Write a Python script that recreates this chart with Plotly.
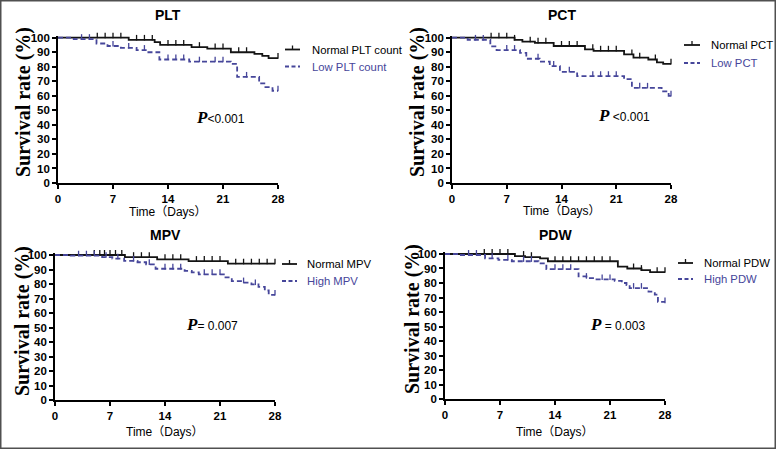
import numpy as np
import plotly.graph_objects as go

W, H = 776, 449

# ---- data (days, survival %) ----
day_ticks = [0, 7, 14, 21, 28]

plt_normal_t = [0, 9, 12.3, 13, 17, 19, 22, 25, 26, 26.8, 28]
plt_normal_s = [100, 98.5, 97, 95, 93.5, 92.5, 90, 88.8, 87.5, 86, 86]
plt_normal_cens = [5, 6, 7, 8, 10, 11, 12, 14, 15, 16, 18, 20, 21, 23, 24, 28]
plt_low_t = [0, 2, 4.9, 6.3, 8, 10, 11.5, 12.9, 16.7, 22, 22.8, 25.6, 26.4, 27.3, 28]
plt_low_s = [100, 99, 96, 94.3, 93, 91.5, 90, 85, 83.5, 82, 73, 68.5, 66, 63.5, 63.5]
plt_low_cens = [3, 4, 7, 9, 11, 14, 15, 16, 18, 20, 21, 24, 28]

pct_normal_t = [0, 8, 9, 10.6, 13, 17, 18.1, 22, 23.2, 25.1, 26.2, 27, 28]
pct_normal_s = [100, 98.5, 97.3, 96.5, 94.3, 92, 91, 88.5, 86.3, 85, 83, 82, 82]
pct_normal_cens = [5, 6, 7, 8, 10, 11, 12, 14, 15, 16, 18, 19, 20, 21, 23, 24, 26, 28]
pct_low_t = [0, 2, 4.9, 5.7, 8.7, 9.5, 11.2, 12.5, 13.8, 16, 22, 23, 26.8, 27.7, 28]
pct_low_s = [100, 98.5, 94, 91.5, 89.5, 85.5, 83.5, 80.5, 76.5, 73.5, 71.5, 65.5, 63, 60, 60]
pct_low_cens = [3, 4, 7, 8, 11, 13, 15, 18, 19, 20, 21, 24, 25, 28]

mpv_normal_t = [0, 8.9, 13, 17, 22, 28]
mpv_normal_s = [100, 98.5, 97, 95.8, 94, 94]
mpv_normal_cens = [5, 5.7, 6.3, 7, 7.7, 8.5, 10, 11, 12, 14, 15, 16, 18, 19, 20, 21,
                   23, 24, 25, 26, 27, 28]
mpv_high_t = [0, 2, 6, 7.3, 8.8, 10.5, 11.6, 12.8, 16.5, 17.4, 18.3, 21.7, 22.5, 23.8,
              25, 25.9, 26.7, 27.2, 28]
mpv_high_s = [100, 99.5, 98.5, 97.5, 96, 95, 93.6, 90.5, 89, 88, 86.7, 84.5, 82, 81,
              79.7, 78, 75.5, 72.5, 72.5]
mpv_high_cens = [3, 4, 5, 6.5, 8, 10, 12, 14, 15, 16, 19, 20, 21, 24, 25.5, 28]

pdw_normal_t = [0, 8.9, 10.2, 12.1, 13.1, 22, 23.2, 25, 26.1, 28]
pdw_normal_s = [100, 98.6, 97.8, 97, 95, 91.3, 90, 88.9, 87.5, 87.5]
pdw_normal_cens = [5, 6, 7, 8, 10, 11, 14, 15, 16, 17, 18, 19, 20, 21, 24, 25, 27, 28]
pdw_high_t = [0, 1.9, 5.1, 6.8, 8.5, 11.9, 12.9, 17, 18, 19.1, 21.6, 22.5, 23.1, 23.5,
              25.9, 26.7, 27.1, 28]
pdw_high_s = [100, 99.3, 97, 96, 95, 93.6, 89.5, 84.5, 83.4, 82.5, 81.5, 80, 78.5, 76.5,
              74, 72, 67, 66.5]
pdw_high_cens = [3, 4, 6, 8, 10, 11, 14, 15, 16, 18, 20, 21, 24, 25, 28]

BLACK = "#141414"
BLUE = "#46469a"
SANS = "Arial, Liberation Sans, sans-serif"
SERIF = "Times New Roman, Liberation Serif, serif"

panels = [
    dict(title="PLT", names=("Normal PLT count", "Low PLT count"), p="&lt;0.001",
         normal=(plt_normal_t, plt_normal_s, plt_normal_cens),
         other=(plt_low_t, plt_low_s, plt_low_cens),
         box=(58, 278, 183, 37.7), title_y=15, ytitle=(24, 102), xtitle_y=212,
         leg=(285, 300, 310, 49.5, 66.5), pos_p=(220, 117)),
    dict(title="PCT", names=("Normal PCT", "Low PCT"), p=" &lt;0.001",
         normal=(pct_normal_t, pct_normal_s, pct_normal_cens),
         other=(pct_low_t, pct_low_s, pct_low_cens),
         box=(452, 671, 183, 37.7), title_y=15, ytitle=(418, 102), xtitle_y=211,
         leg=(684, 700, 709, 45, 63), pos_p=(624, 115)),
    dict(title="MPV", names=("Normal MPV", "High MPV"), p="= 0.007",
         normal=(mpv_normal_t, mpv_normal_s, mpv_normal_cens),
         other=(mpv_high_t, mpv_high_s, mpv_high_cens),
         box=(55, 275, 400, 255), title_y=235, ytitle=(22, 321), xtitle_y=432,
         leg=(282, 297, 305, 264, 281), pos_p=(212, 324)),
    dict(title="PDW", names=("Normal PDW", "High PDW"), p=" = 0.003",
         normal=(pdw_normal_t, pdw_normal_s, pdw_normal_cens),
         other=(pdw_high_t, pdw_high_s, pdw_high_cens),
         box=(445, 665, 399, 254), title_y=235, ytitle=(412, 319), xtitle_y=432,
         leg=(678, 693, 702, 263, 279), pos_p=(617, 324)),
]


def px(x):
    return x / W


def py(y):
    return 1 - y / H


def surv_at(t, s, tc):
    idx = np.searchsorted(np.array(t), np.array(tc), side="right") - 1
    return np.array(s)[idx]


fig = go.Figure()
annotations = []
shapes = []
YTOP = 101.5

for i, pn in enumerate(panels, start=1):
    xa = "x" if i == 1 else f"x{i}"
    ya = "y" if i == 1 else f"y{i}"
    x0, x1, yb, y100 = pn["box"]
    ytop_px = y100 - (yb - y100) * (YTOP - 100) / 100

    for (t, s, cens), color, dash in [(pn["normal"], BLACK, "solid"),
                                      (pn["other"], BLUE, "5px,3px")]:
        fig.add_trace(go.Scatter(x=t, y=s, mode="lines", line_shape="hv",
                                 line=dict(color=color, width=1.8, dash=dash),
                                 xaxis=xa, yaxis=ya, showlegend=False,
                                 hoverinfo="skip"))
        # censoring ticks sit just above the step line
        fig.add_trace(go.Scatter(x=cens, y=surv_at(t, s, cens) + 1.5, mode="markers",
                                 marker=dict(symbol="line-ns", size=4,
                                             line=dict(color=color, width=1.3)),
                                 cliponaxis=False, xaxis=xa, yaxis=ya,
                                 showlegend=False, hoverinfo="skip"))

    axis_common = dict(showline=True, linecolor="black", linewidth=1.6, ticks="outside",
                       ticklen=4, tickwidth=1.5, tickcolor="black", showgrid=False,
                       zeroline=False, automargin=False,
                       tickfont=dict(family=SANS, size=11.5, color="black", weight="bold"))
    fig.layout[f"xaxis{'' if i == 1 else i}"] = dict(
        domain=[px(x0), px(x1)], range=[0, 28], tickvals=day_ticks,
        anchor=ya, **axis_common)
    fig.layout[f"yaxis{'' if i == 1 else i}"] = dict(
        domain=[py(yb), py(ytop_px)], range=[0, YTOP], tickvals=list(range(0, 101, 10)),
        anchor=xa, **axis_common)

    cx = (x0 + x1) / 2
    annotations.append(dict(text=f"<b>{pn['title']}</b>", x=px(cx), y=py(pn["title_y"]),
                            font=dict(family=SANS, size=14, color="black")))
    annotations.append(dict(text="<b>Survival rate (%)</b>", textangle=-90,
                            x=px(pn["ytitle"][0]), y=py(pn["ytitle"][1]),
                            font=dict(family=SERIF, size=20, color="black")))
    annotations.append(dict(text="Time（Days）", x=px(cx), y=py(pn["xtitle_y"]),
                            font=dict(family="Arial, Noto Sans CJK SC", size=12,
                                      color="black")))
    lx0, lx1, ltx, ly1, ly2 = pn["leg"]
    annotations.append(dict(text=pn["names"][0], x=px(ltx), y=py(ly1), xanchor="left",
                            font=dict(family=SANS, size=11.3, color="black")))
    annotations.append(dict(text=pn["names"][1], x=px(ltx), y=py(ly2), xanchor="left",
                            font=dict(family=SANS, size=11.3, color=BLUE)))
    shapes.append(dict(type="line", xref="paper", yref="paper", x0=px(lx0), x1=px(lx1),
                       y0=py(ly1), y1=py(ly1), line=dict(color=BLACK, width=1.8)))
    mx = (lx0 + lx1) / 2
    shapes.append(dict(type="line", xref="paper", yref="paper", x0=px(mx), x1=px(mx),
                       y0=py(ly1), y1=py(ly1 - 4), line=dict(color=BLACK, width=1.3)))
    shapes.append(dict(type="line", xref="paper", yref="paper", x0=px(lx0), x1=px(lx1),
                       y0=py(ly2), y1=py(ly2),
                       line=dict(color=BLUE, width=1.8, dash="4px,2.5px")))
    annotations.append(dict(
        text=f"<span style='font-family:{SERIF}; font-size:17px'><b><i>P</i></b></span>{pn['p']}",
        x=px(pn["pos_p"][0]), y=py(pn["pos_p"][1]),
        font=dict(family=SANS, size=12, color="black")))

for a in annotations:
    a.setdefault("xanchor", "center")
    a.update(xref="paper", yref="paper", showarrow=False, yanchor="middle")

shapes.append(dict(type="rect", xref="paper", yref="paper", x0=0, x1=1, y0=0, y1=1,
                   line=dict(color="#505050", width=3)))

fig.update_layout(width=W, height=H, margin=dict(l=0, r=0, t=0, b=0, pad=0),
                  paper_bgcolor="white", plot_bgcolor="white",
                  annotations=annotations, shapes=shapes, showlegend=False)

# the page body has a default 8px margin; drop it so the figure fills the window
fig.write_html("out.html", config={"displayModeBar": False},
               post_script="document.body.style.margin='0';"
                           "document.body.style.overflow='hidden';")
